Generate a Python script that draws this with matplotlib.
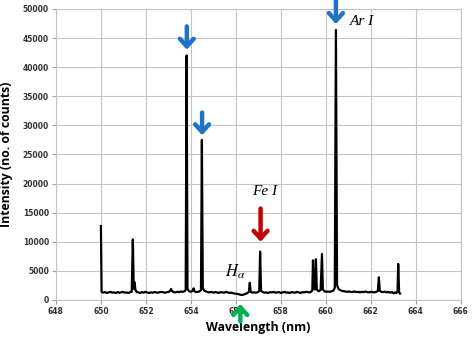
import matplotlib
matplotlib.use("Agg")
import matplotlib.pyplot as plt

plt.rcParams["mathtext.fontset"] = "stix"

# Spectrum (wavelength in nm, counts)
wavelength = [
    650.00, 650.03, 650.10, 650.18, 650.26, 650.34, 650.42, 650.50, 650.58, 650.66,
    650.74, 650.82, 650.90, 650.98, 651.06, 651.14, 651.22, 651.30,
    651.37, 651.42, 651.46, 651.50, 651.53, 651.58, 651.66, 651.74, 651.82, 651.90,
    651.98, 652.06, 652.14, 652.22, 652.30, 652.38,
    652.46, 652.54, 652.62, 652.70, 652.78, 652.86, 652.94, 653.02, 653.08, 653.12,
    653.16, 653.24, 653.32, 653.40, 653.48, 653.56, 653.64, 653.72,
    653.77, 653.81, 653.85, 653.92, 654.00, 654.08, 654.12, 654.16, 654.24, 654.32, 654.40,
    654.45, 654.49, 654.53, 654.60, 654.68, 654.76, 654.84, 654.92, 655.00, 655.08,
    655.16, 655.24, 655.32, 655.40, 655.48, 655.56, 655.64, 655.72, 655.80, 655.88,
    655.96, 656.04, 656.12, 656.20, 656.28, 656.36, 656.44, 656.52, 656.58, 656.62,
    656.66, 656.74, 656.82, 656.90, 656.98, 657.04, 657.08, 657.12, 657.20, 657.28,
    657.36, 657.44, 657.52, 657.60, 657.68, 657.76, 657.84, 657.92, 658.00, 658.08,
    658.16, 658.24, 658.32, 658.40, 658.48, 658.56, 658.64, 658.72, 658.80, 658.88,
    658.96, 659.04, 659.12, 659.20, 659.28, 659.36, 659.40, 659.43, 659.47, 659.52,
    659.56, 659.60, 659.68, 659.77, 659.83, 659.87, 659.94, 660.02, 660.10, 660.18,
    660.26, 660.34, 660.40, 660.45, 660.50, 660.56, 660.64, 660.72, 660.80, 660.88,
    660.96, 661.04, 661.12, 661.20, 661.28, 661.36, 661.44, 661.52, 661.60, 661.68,
    661.76, 661.84, 661.92, 662.00, 662.08, 662.16, 662.24, 662.31, 662.36, 662.40,
    662.46, 662.54, 662.62, 662.70, 662.78, 662.86, 662.94, 663.02, 663.08, 663.14,
    663.19, 663.22, 663.26, 663.30,
]
counts = [
    12700, 1400, 1250, 1350, 1200, 1300, 1400, 1250, 1300, 1200,
    1350, 1250, 1300, 1400, 1250, 1300, 1200, 1350,
    1400, 10400, 1900, 3000, 1800, 1400, 1300, 1200, 1350, 1250,
    1400, 1300, 1200, 1300, 1250, 1350,
    1300, 1250, 1350, 1400, 1300, 1250, 1350, 1400, 1600, 1900,
    1500, 1350, 1300, 1400, 1350, 1450, 1400, 1500,
    1700, 42000, 1900, 1500, 1400, 1600, 2000, 1500, 1350, 1400, 1500,
    1700, 27500, 2000, 1600, 1450, 1350, 1300, 1400, 1250, 1350,
    1300, 1200, 1350, 1300, 1250, 1400, 1300, 1200, 1250, 1150,
    1100, 1050, 1000, 900, 850, 950, 1050, 1200, 1400, 2950,
    1400, 1250, 1300, 1250, 1350, 1500, 8300, 1600, 1350, 1250,
    1300, 1200, 1350, 1300, 1400, 1250, 1300, 1350, 1200, 1300,
    1400, 1250, 1300, 1200, 1350, 1300, 1250, 1400, 1300, 1200,
    1350, 1300, 1400, 1350, 1300, 1450, 1700, 6800, 1900, 1800,
    7000, 1800, 1500, 1700, 7900, 1800, 1500, 1400, 1450, 1400,
    1500, 1600, 2100, 46400, 2600, 1900, 1700, 1550, 1500, 1450,
    1400, 1450, 1350, 1400, 1450, 1350, 1400, 1300, 1400, 1350,
    1450, 1350, 1300, 1400, 1350, 1300, 1400, 1500, 3900, 1600,
    1400, 1350, 1450, 1300, 1400, 1250, 1350, 1150, 1300, 1200,
    1500, 6200, 1300, 1100,
]

x_ticks = list(range(648, 667, 2))
y_ticks = list(range(0, 50001, 5000))

fig = plt.figure(figsize=(4.74, 3.44), dpi=100)
ax = fig.add_axes([0.118, 0.128, 0.854, 0.846])

ax.plot(wavelength, counts, color="black", lw=1.6, zorder=3)

ax.set_xlim(648, 666)
ax.set_ylim(0, 50000)
ax.set_xticks(x_ticks)
ax.set_yticks(y_ticks)
ax.grid(True, color="#c4c4c4", lw=0.8)
ax.set_axisbelow(True)
for s in ax.spines.values():
    s.set_color("#c4c4c4")
    s.set_linewidth(0.8)
ax.tick_params(length=3, color="#a0a0a0", labelsize=5.5, pad=2)
for lab in ax.get_xticklabels() + ax.get_yticklabels():
    lab.set_fontweight("bold")
    lab.set_color("#333333")

ax.set_ylabel("Intensity (no. of counts)", fontsize=8.8, fontweight="bold",
              family="Open Sans", labelpad=7)
ax.set_xlabel("Wavelength (nm)", fontsize=8.8, fontweight="bold",
              family="Open Sans", labelpad=4)

# arrows marking the lines
def arrow(x, y_tail, y_tip, color):
    ax.annotate("", xy=(x, y_tip), xytext=(x, y_tail), annotation_clip=False,
                arrowprops=dict(arrowstyle="->, head_length=0.55, head_width=0.5",
                                color=color, lw=3.2, shrinkA=0, shrinkB=0),
                zorder=5)

blue = "#1f72c4"
arrow(653.82, 47000, 43000, blue)
arrow(654.50, 32200, 28300, blue)
arrow(660.45, 51500, 47400, blue)
arrow(657.10, 15700, 10000, "#c00000")
arrow(656.20, -3700, -700, "#00b050")

ax.text(661.05, 47800, "Ar I", fontsize=11, style="italic",
        family="Liberation Serif", ha="left", va="center")
ax.text(656.70, 18700, "Fe I", fontsize=11, style="italic",
        family="Liberation Serif", ha="left", va="center")
ax.text(655.50, 4900, r"$H_\alpha$", fontsize=12, ha="left", va="center")

fig.savefig("out.png", dpi=100)
